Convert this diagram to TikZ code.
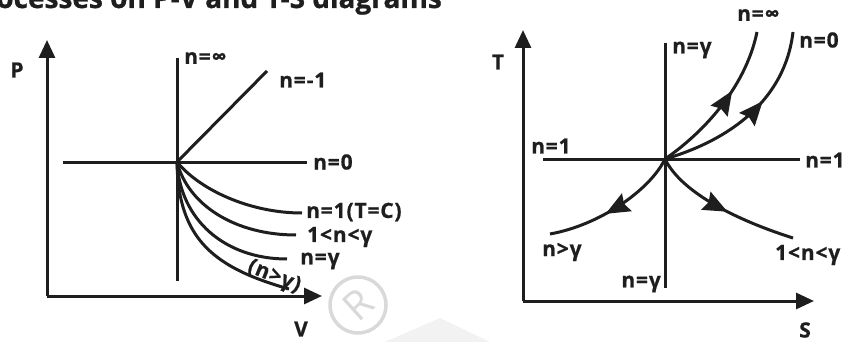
\documentclass[tikz,border=0pt]{standalone}
\usepackage{fontspec}
\setmainfont{Open Sans}[BoldFont={Open Sans Bold}]
\usetikzlibrary{arrows.meta,decorations.markings}
\definecolor{ink}{HTML}{1E1E1E}
\begin{document}
\begin{tikzpicture}[x=1pt,y=-1pt,
  ln/.style={draw=ink,line width=3pt,line cap=butt},
  axis/.style={ln,-{Triangle[length=18pt,width=16pt]}},
  midarrow/.style={ln,postaction={decorate},decoration={markings,mark=at position #1 with {\arrow[ink]{Stealth[length=24pt,width=20pt,inset=3pt]}}}},
  lbl/.style={text=ink,font=\fontsize{21}{21}\selectfont\bfseries\addfontfeature{LetterSpace=4,FakeBold=0.8},inner sep=0pt},
  wm/.style={draw=black!15,line width=3.5pt}]
\useasboundingbox (0,0) rectangle (853,342);
\begin{scope}
\clip (0,0) rectangle (853,342);
% title (cropped)
\node[anchor=base east,inner sep=0pt,text=ink,font=\fontsize{28}{28}\selectfont\bfseries\addfontfeature{FakeBold=0.8}] (title) at (442,8) {Processes on P-V and T-S diagrams};
% watermark
\fill[black!5] (385,342) -- (440,318) -- (490,342) -- cycle;
\node[circle,wm,minimum size=56pt,inner sep=0pt] (wmc) at (358,305) {};
\node[rotate=42,text=black!15,font=\fontsize{40}{40}\selectfont] (wmr) at (wmc) {R};
\end{scope}
% ---------- P-V diagram ----------
\coordinate (O1) at (47,296);
\coordinate (Ptip) at (47,40);
\coordinate (Vtip) at (322,296);
\draw[axis] (O1) -- (Ptip);
\draw[axis] (O1) -- (Vtip);
\node[lbl] (P) at (17,70) {P};
\node[lbl] (V) at (301,329) {V};
\coordinate (C1) at (177,162);
\coordinate (inftop) at (177,58);
\coordinate (infbot) at (177,281);
\draw[ln] (inftop) -- (infbot);
\node[lbl,anchor=west] (linf) at (184,58) {n=∞};
\coordinate (m1) at (267,71);
\draw[ln] (C1) -- (m1);
\node[lbl,anchor=west] (lm1) at (279,80) {n=-1};
\coordinate (h0l) at (63,162);
\coordinate (h0r) at (307,162);
\draw[ln] (h0l) -- (h0r);
\node[lbl,anchor=west] (l0) at (313,162) {n=0};
\coordinate (e1) at (302,213);
\coordinate (e2) at (296,235);
\coordinate (e3) at (287,259);
\coordinate (e4) at (289,289);
\draw[ln] (C1) .. controls (200,190) and (250,213) .. (e1);
\draw[ln] (C1) .. controls (188,205) and (235,235) .. (e2);
\draw[ln] (C1) .. controls (180,220) and (225,259) .. (e3);
\draw[ln] (C1) .. controls (178,240) and (215,268) .. (e4);
\node[lbl,anchor=west] (l1) at (306,212) {n=1(T=C)};
\node[lbl,anchor=west] (l2) at (307,237) {1<n<γ};
\node[lbl,anchor=west] (l3) at (300,261) {n=γ};
\node[lbl,rotate=-22] (l4) at (274,277) {(n>γ)};
% ---------- T-S diagram ----------
\coordinate (O2) at (523,301);
\coordinate (Ttip) at (523,30);
\coordinate (Stip) at (814,301);
\draw[axis] (O2) -- (Ttip);
\draw[axis] (O2) -- (Stip);
\node[lbl] (T) at (498,62) {T};
\node[lbl] (S) at (805,330) {S};
\coordinate (C2) at (665,159);
\coordinate (gtop) at (665,43);
\coordinate (gbot) at (665,288);
\draw[ln] (gtop) -- (gbot);
\node[lbl,anchor=west] (lgt) at (672,50) {n=γ};
\node[lbl,anchor=east] (lgb) at (661,284) {n=γ};
\coordinate (hl) at (543,159);
\coordinate (hr) at (800,159);
\draw[ln] (hl) -- (hr);
\node[lbl,anchor=west] (l1l) at (531,146) {n=1};
\node[lbl,anchor=west] (l1r) at (805,160) {n=1};
\coordinate (einf) at (757,32);
\coordinate (e0) at (793,32);
\coordinate (egt) at (550,234);
\coordinate (elt) at (793,238);
\draw[midarrow=0.6] (C2) .. controls (700,135) and (745,90) .. (einf);
\draw[midarrow=0.6] (C2) .. controls (730,140) and (785,100) .. (e0);
\draw[midarrow=0.58] (C2) .. controls (650,190) and (600,225) .. (egt);
\draw[midarrow=0.54] (C2) .. controls (680,190) and (730,218) .. (elt);
\node[lbl,anchor=west] (linf2) at (737,15) {n=∞};
\node[lbl,anchor=west] (l02) at (799,40) {n=0};
\node[lbl,anchor=west] (lgt2) at (542,252) {n>γ};
\node[lbl,anchor=west] (llt2) at (775,255) {1<n<γ};
\end{tikzpicture}
\end{document}
